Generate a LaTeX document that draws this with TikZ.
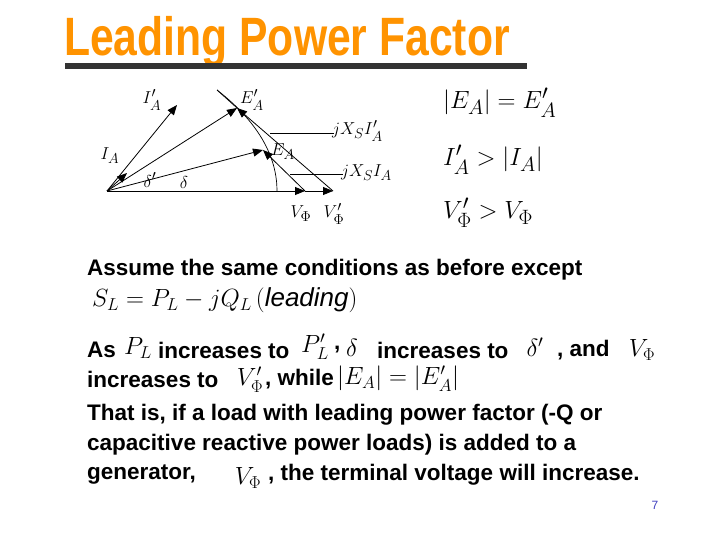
\documentclass[tikz,border=0pt]{standalone}
\usepackage{amsmath}
\usepackage{fontspec}
\setmainfont{Liberation Sans}
\usetikzlibrary{arrows.meta}
\tikzset{
 vec/.style={-{Triangle[length=10pt,width=8pt]},line width=0.8pt},
 thin/.style={line width=0.7pt},
 lab/.style={inner sep=0pt,font=\fontsize{19}{19}\selectfont},
 eq/.style={inner sep=0pt,anchor=west,font=\fontsize{31}{31}\selectfont},
 txt/.style={inner sep=0pt,anchor=west,font=\bfseries\fontsize{22.5}{22.5}\selectfont},
 ml/.style={inner sep=0pt,font=\fontsize{24}{24}\selectfont}
}
\begin{document}
\begin{tikzpicture}[x=1pt,y=-1pt]
\useasboundingbox (0,0) rectangle (720,540);
% title
\node[inner sep=0pt,anchor=west,text=orange!85!yellow,font=\bfseries\fontsize{54}{54}\selectfont,xscale=0.79] (title) at (64,42) {Leading Power Factor};
\fill[black!80] (65,63) rectangle (527,69);
% phasor diagram
\coordinate (O) at (107,191);
\coordinate (V) at (305,191);
\coordinate (Vp) at (333,191);
\coordinate (E) at (263,150);
\coordinate (Ep) at (237,108);
\coordinate (I) at (127,173);
\coordinate (Ip) at (177,105);
\coordinate (top) at (217,90);
\draw[vec] (O) -- (V);
\draw[vec] (V) -- (Vp);
\draw[vec] (O) -- (E);
\draw[vec] (O) -- (Ep);
\draw[vec] (O) -- (I);
\draw[vec] (O) -- (Ip);
\draw[vec] (V) -- (E);
\draw[vec] (Vp) -- (Ep);
\draw[thin] (top) -- (Ep);
\draw[thin] (top) .. controls (262,125) and (277,160) .. (277,191);
\coordinate (l1a) at (270,133); \coordinate (l1b) at (334,133);
\coordinate (l2a) at (290,174); \coordinate (l2b) at (343,174);
\draw[thin] (l1a) -- (l1b);
\draw[thin] (l2a) -- (l2b);
\node[lab,anchor=west] (jx1) at (332,131) {$jX_S I'_A$};
\node[lab,anchor=west] (jx2) at (341,173) {$jX_S I_A$};
\node[lab] (lIp) at (152,100) {$I'_A$};
\node[lab] (lEp) at (252,100) {$E'_A$};
\node[lab] (lI) at (110,156) {$I_A$};
\node[lab] (lE) at (283,152) {$E_A$};
\node[lab] (ld1) at (150,180) {$\delta'$};
\node[lab] (ld) at (184,183) {$\delta$};
\node[lab] (lV) at (301,214) {$V_\Phi$};
\node[lab] (lVp) at (334,214) {$V'_\Phi$};
% right equations
\node[eq] (e1) at (443,103) {$\lvert E_A\rvert = E'_A$};
\node[eq] (e2) at (443,160) {$I'_A > \lvert I_A\rvert$};
\node[eq] (e3) at (443,213) {$V'_\Phi > V_\Phi$};
% text
\node[txt] (t1) at (87,270) {Assume the same conditions as before except};
\node[ml,anchor=west,font=\fontsize{26}{26}\selectfont] (t2) at (92,300) {$S_L = P_L - jQ_L\,(\mathit{leading})$};
\node[txt] (t3) at (87,350) {As};
\node[ml] (m1) at (138,348) {$P_L$};
\node[txt] (t4) at (158,350) {increases to};
\node[ml] (m2) at (315,347) {$P'_L$};
\node[txt] (t5) at (334,350) {,};
\node[ml] (m3) at (352,348) {$\delta$};
\node[txt] (t6) at (377,350) {increases to};
\node[ml] (m4) at (535,347) {$\delta'$};
\node[txt] (t7) at (557,350) {, and};
\node[ml] (m5) at (642,350) {$V_\Phi$};
\node[txt] (t8) at (87,379) {increases to};
\node[ml] (m6) at (250,380) {$V'_\Phi$};
\node[txt] (t9) at (265,379) {, while};
\node[ml,anchor=west] (m7) at (337,379) {$\lvert E_A\rvert = \lvert E'_A\rvert$};
\node[txt] (p1) at (87,415) {That is, if a load with leading power factor (-Q or};
\node[txt] (p2) at (87,445) {capacitive reactive power loads) is added to a};
\node[txt] (p3) at (87,475) {generator,};
\node[ml] (m8) at (248,478) {$V_\Phi$};
\node[txt] (p4) at (268,475) {, the terminal voltage will increase.};
\node[inner sep=0pt,text=blue!50!gray,font=\fontsize{12}{12}\selectfont] (pg) at (655,505) {7};
\end{tikzpicture}
\end{document}
